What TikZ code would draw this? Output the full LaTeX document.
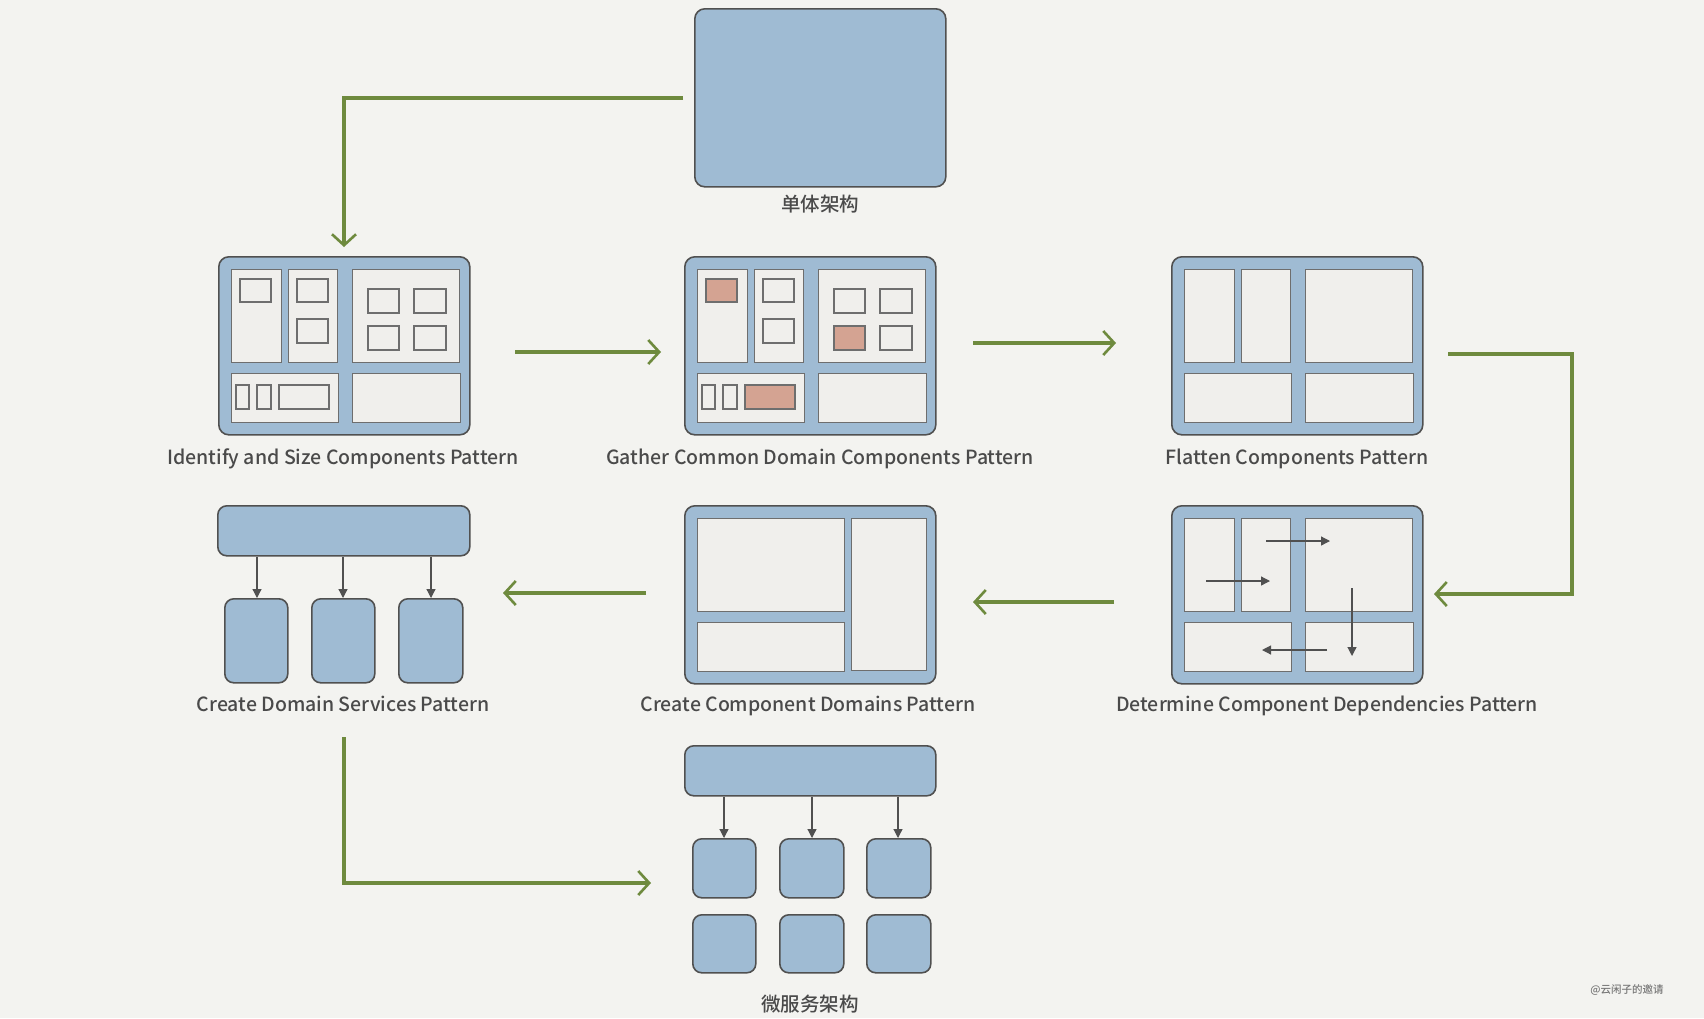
\documentclass[tikz,border=0pt]{standalone}
\usepackage{fontspec}
\setmainfont{Noto Sans CJK SC}[UprightFont=* Medium]
\usetikzlibrary{arrows.meta}
\definecolor{bg}{HTML}{F3F3F0}
\definecolor{boxblue}{HTML}{9FBBD3}
\definecolor{panel}{HTML}{F0EFEC}
\definecolor{edge}{HTML}{505050}
\definecolor{pedge}{HTML}{6E6E6E}
\definecolor{salmon}{HTML}{D4A392}
\definecolor{olive}{HTML}{6E8A3E}
\definecolor{txt}{HTML}{4A4A4A}
\tikzset{
  outer/.style={draw=edge, fill=boxblue, line width=1.6pt, rounded corners=10pt},
  pnl/.style={draw=pedge, fill=panel, line width=1pt},
  sub/.style={draw=pedge, fill=panel, line width=1.3pt},
  subhot/.style={draw=pedge, fill=salmon, line width=1.3pt},
  svc/.style={draw=edge, fill=boxblue, line width=1.6pt, rounded corners=9pt},
  flow/.style={draw=olive, line width=4.5pt, -{Straight Barb[length=11pt,width=24pt,line width=2.6pt]}},
  dep/.style={draw=edge, line width=1.2pt, -{Triangle[length=9pt,width=9pt]}},
  lbl/.style={text=txt, font=\fontsize{19.5}{22}\selectfont, text height=14pt, text depth=4pt, inner sep=0pt},
}
\newcommand{\fivepanels}{%
  \draw[pnl] (13,13) rectangle (63,106);
  \draw[pnl] (70,13) rectangle (119,106);
  \draw[pnl] (134,13) rectangle (241,106);
  \draw[pnl] (13,117) rectangle (120,166);
  \draw[pnl] (134,117) rectangle (242,166);
}
\begin{document}
\begin{tikzpicture}[x=1pt,y=-1pt]
\useasboundingbox (0,0) rectangle (1704,1018);
\fill[bg] (0,0) rectangle (1704,1018);

% Monolith
\node[outer, minimum width=251pt, minimum height=178pt, inner sep=0pt, anchor=north west] (mono) at (694,8) {};
\node[lbl] (monolbl) at (820,206) {单体架构};

% Identify and Size
\node[outer, minimum width=251pt, minimum height=178pt, inner sep=0pt, anchor=north west] (ident) at (218,256) {};
\begin{scope}[shift={(218,256)}]
  \fivepanels
  \draw[sub] (22,23) rectangle (53,46);
  \draw[sub] (79,23) rectangle (110,46);
  \draw[sub] (79,63) rectangle (110,87);
  \draw[sub] (150,33) rectangle (181,57);
  \draw[sub] (196,33) rectangle (228,57);
  \draw[sub] (150,70) rectangle (181,94);
  \draw[sub] (196,70) rectangle (228,94);
  \draw[sub] (18,129) rectangle (31,153);
  \draw[sub] (39,129) rectangle (53,153);
  \draw[sub] (61,129) rectangle (111,153);
\end{scope}
\node[lbl] (identlbl) at (343,459) {Identify and Size Components Pattern};

% Gather Common Domain
\node[outer, minimum width=251pt, minimum height=178pt, inner sep=0pt, anchor=north west] (gather) at (684,256) {};
\begin{scope}[shift={(684,256)}]
  \fivepanels
  \draw[subhot] (22,23) rectangle (53,46);
  \draw[sub] (79,23) rectangle (110,46);
  \draw[sub] (79,63) rectangle (110,87);
  \draw[sub] (150,33) rectangle (181,57);
  \draw[sub] (196,33) rectangle (228,57);
  \draw[subhot] (150,70) rectangle (181,94);
  \draw[sub] (196,70) rectangle (228,94);
  \draw[sub] (18,129) rectangle (31,153);
  \draw[sub] (39,129) rectangle (53,153);
  \draw[subhot] (61,129) rectangle (111,153);
\end{scope}
\node[lbl] (gatherlbl) at (820,459) {Gather Common Domain Components Pattern};

% Flatten
\node[outer, minimum width=251pt, minimum height=178pt, inner sep=0pt, anchor=north west] (flat) at (1171,256) {};
\begin{scope}[shift={(1171,256)}]
  \fivepanels
\end{scope}
\node[lbl] (flatlbl) at (1297,459) {Flatten Components Pattern};

% Determine dependencies
\node[outer, minimum width=251pt, minimum height=178pt, inner sep=0pt, anchor=north west] (dete) at (1171,505) {};
\begin{scope}[shift={(1171,505)}]
  \fivepanels
\end{scope}
\coordinate (d1s) at (1266,541); \coordinate (d1e) at (1330,541);
\coordinate (d2s) at (1206,581); \coordinate (d2e) at (1270,581);
\coordinate (d3s) at (1352,588); \coordinate (d3e) at (1352,656);
\coordinate (d4s) at (1327,650); \coordinate (d4e) at (1262,650);
\draw[dep] (d1s) -- (d1e);
\draw[dep] (d2s) -- (d2e);
\draw[dep] (d3s) -- (d3e);
\draw[dep] (d4s) -- (d4e);
\node[lbl] (detelbl) at (1327,706) {Determine Component Dependencies Pattern};

% Create Component Domains
\node[outer, minimum width=251pt, minimum height=178pt, inner sep=0pt, anchor=north west] (ccd) at (684,505) {};
\draw[pnl] (697,518) rectangle (844,611);
\draw[pnl] (697,622) rectangle (844,671);
\draw[pnl] (851,518) rectangle (926,670);
\node[lbl] (ccdlbl) at (808,706) {Create Component Domains Pattern};

% Create Domain Services
\node[svc, minimum width=252pt, minimum height=50pt, inner sep=0pt, anchor=north west] (cdsbar) at (217,505) {};
\node[svc, minimum width=63pt, minimum height=84pt, inner sep=0pt, anchor=north west] (cds1) at (224,598) {};
\node[svc, minimum width=63pt, minimum height=84pt, inner sep=0pt, anchor=north west] (cds2) at (311,598) {};
\node[svc, minimum width=64pt, minimum height=84pt, inner sep=0pt, anchor=north west] (cds3) at (398,598) {};
\draw[dep] (cdsbar.south -| 257,0) -- (cds1.north -| 257,0);
\draw[dep] (cdsbar.south -| 343,0) -- (cds2.north -| 343,0);
\draw[dep] (cdsbar.south -| 431,0) -- (cds3.north -| 431,0);
\node[lbl] (cdslbl) at (343,706) {Create Domain Services Pattern};

% Microservices
\node[svc, minimum width=251pt, minimum height=50pt, inner sep=0pt, anchor=north west] (msbar) at (684,745) {};
\node[svc, minimum width=63pt, minimum height=59pt, inner sep=0pt, anchor=north west] (ms1) at (692,838) {};
\node[svc, minimum width=64pt, minimum height=59pt, inner sep=0pt, anchor=north west] (ms2) at (779,838) {};
\node[svc, minimum width=64pt, minimum height=59pt, inner sep=0pt, anchor=north west] (ms3) at (866,838) {};
\node[svc, minimum width=63pt, minimum height=58pt, inner sep=0pt, anchor=north west] (ms4) at (692,914) {};
\node[svc, minimum width=64pt, minimum height=58pt, inner sep=0pt, anchor=north west] (ms5) at (779,914) {};
\node[svc, minimum width=64pt, minimum height=58pt, inner sep=0pt, anchor=north west] (ms6) at (866,914) {};
\draw[dep] (msbar.south -| 724,0) -- (ms1.north -| 724,0);
\draw[dep] (msbar.south -| 812,0) -- (ms2.north -| 812,0);
\draw[dep] (msbar.south -| 898,0) -- (ms3.north -| 898,0);
\node[lbl] (mslbl) at (810,1006) {微服务架构};

% Green flow connectors
\coordinate (c1) at (683,98);
\coordinate (c1b) at (344,98);
\coordinate (c1e) at (344,247);
\draw[flow] (c1) -- (c1b) -- (c1e);

\coordinate (c2s) at (515,352); \coordinate (c2e) at (661,352);
\draw[flow] (c2s) -- (c2e);

\coordinate (c3s) at (973,343); \coordinate (c3e) at (1116,343);
\draw[flow] (c3s) -- (c3e);

\coordinate (c4s) at (1448,354); \coordinate (c4a) at (1572,354);
\coordinate (c4b) at (1572,594); \coordinate (c4e) at (1434,594);
\draw[flow] (c4s) -- (c4a) -- (c4b) -- (c4e);

\coordinate (c5s) at (1114,602); \coordinate (c5e) at (973,602);
\draw[flow] (c5s) -- (c5e);

\coordinate (c6s) at (646,593); \coordinate (c6e) at (503,593);
\draw[flow] (c6s) -- (c6e);

\coordinate (c7s) at (344,737); \coordinate (c7b) at (344,883);
\coordinate (c7e) at (651,883);
\draw[flow] (c7s) -- (c7b) -- (c7e);

% watermark
\node[text=txt!75, font=\fontsize{10.5}{12}\selectfont] (wm) at (1627,990) {@云闲子的邀请};
\end{tikzpicture}
\end{document}
